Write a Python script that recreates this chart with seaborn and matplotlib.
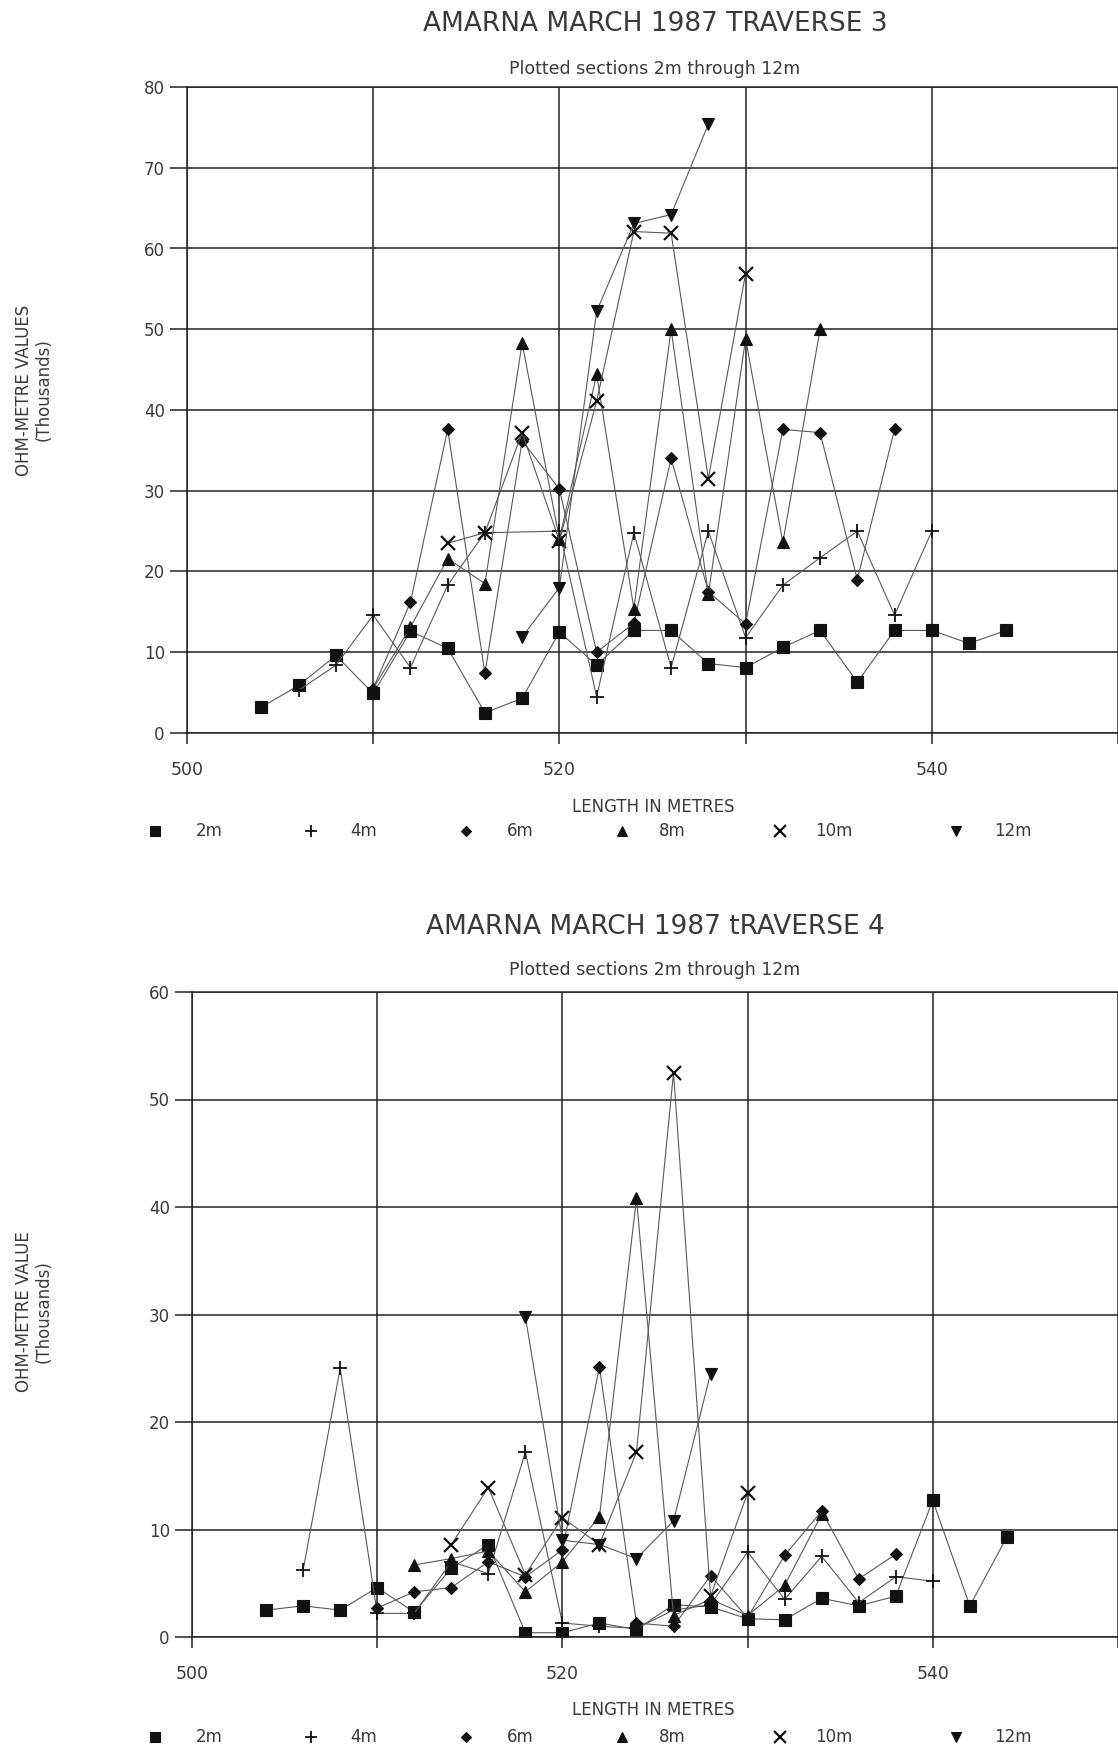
import matplotlib
matplotlib.use("Agg")
import matplotlib.pyplot as plt
from matplotlib.lines import Line2D
import pandas as pd
import seaborn as sns

# ---------------------------------------------------------------
# Traverse 3 – resistivity (thousands of ohm-metres) by position
# ---------------------------------------------------------------
t3_x_2m = [504, 506, 508, 510, 512, 514, 516, 518, 520, 522, 524,
           526, 528, 530, 532, 534, 536, 538, 540, 542, 544]
t3_y_2m = [3.2, 5.9, 9.6, 4.9, 12.6, 10.5, 2.5, 4.3, 12.5, 8.4, 12.7,
           12.7, 8.6, 8.1, 10.6, 12.7, 6.3, 12.7, 12.7, 11.1, 12.7]

t3_x_4m = [506, 508, 510, 512, 514, 516, 520, 522, 524, 526, 528,
           530, 532, 534, 536, 538, 540]
t3_y_4m = [5.3, 8.4, 14.6, 8.1, 18.3, 24.8, 25.0, 4.5, 24.8, 8.1, 25.0,
           11.8, 18.3, 21.7, 25.0, 14.6, 25.0]

t3_x_6m = [510, 512, 514, 516, 518, 520, 522, 524, 526, 528, 530,
           532, 534, 536, 538]
t3_y_6m = [5.5, 16.2, 37.6, 7.4, 36.2, 30.2, 10.0, 13.6, 34.0, 17.5, 13.5,
           37.6, 37.2, 19.0, 37.6]

t3_x_8m = [510, 512, 514, 516, 518, 520, 522, 524, 526, 528, 530, 532, 534]
t3_y_8m = [5.5, 13.1, 21.6, 18.5, 48.3, 24.0, 44.4, 15.4, 50.0, 17.2, 48.8,
           23.6, 50.0]

t3_x_10m = [514, 516, 518, 520, 522, 524, 526, 528, 530]
t3_y_10m = [23.5, 24.8, 37.2, 23.8, 41.1, 62.1, 61.9, 31.5, 56.9]

t3_x_12m = [518, 520, 522, 524, 526, 528]
t3_y_12m = [11.9, 18.0, 52.2, 63.1, 64.2, 75.4]

# ---------------------------------------------------------------
# Traverse 4
# ---------------------------------------------------------------
t4_x_2m = [504, 506, 508, 510, 512, 514, 516, 518, 520, 522, 524,
           526, 528, 530, 532, 534, 536, 538, 540, 542, 544]
t4_y_2m = [2.5, 2.9, 2.5, 4.6, 2.3, 6.4, 8.6, 0.4, 0.4, 1.3, 0.7,
           3.0, 2.8, 1.7, 1.6, 3.6, 2.9, 3.8, 12.7, 2.9, 9.3]

t4_x_4m = [506, 508, 510, 512, 514, 516, 518, 520, 522, 524, 526, 528,
           530, 532, 534, 536, 538, 540]
t4_y_4m = [6.2, 25.0, 2.2, 2.2, 7.0, 5.9, 17.2, 1.3, 1.0, 0.8, 2.5, 3.0,
           7.9, 3.5, 7.5, 3.2, 5.6, 5.2]

t4_x_6m = [510, 512, 514, 516, 518, 520, 522, 524, 526, 528, 530,
           532, 534, 536, 538]
t4_y_6m = [2.7, 4.2, 4.6, 7.0, 5.6, 8.1, 25.1, 1.3, 1.0, 5.7, 1.8,
           7.6, 11.7, 5.4, 7.7]

t4_x_8m = [512, 514, 516, 518, 520, 522, 524, 526, 528, 530, 532, 534]
t4_y_8m = [6.7, 7.3, 8.0, 4.2, 7.0, 11.2, 40.8, 2.0, 3.5, 2.0, 4.8, 11.4]

t4_x_10m = [514, 516, 518, 520, 522, 524, 526, 528, 530]
t4_y_10m = [8.6, 13.9, 5.8, 11.1, 8.6, 17.2, 52.5, 3.8, 13.4]

t4_x_12m = [518, 520, 522, 524, 526, 528]
t4_y_12m = [29.8, 9.0, 8.6, 7.3, 10.8, 24.5]

sections = ["2m", "4m", "6m", "8m", "10m", "12m"]
x_ticks = [500, 510, 520, 530, 540, 550]
x_tick_labels = ["500", "", "520", "", "540", ""]

# marker style per section: (marker, size, edge width)
STYLE = {
    "2m": ("s", 8.5, 0.8),
    "4m": ("+", 10.5, 1.3),
    "6m": ("D", 6.5, 0.8),
    "8m": ("^", 8.5, 0.8),
    "10m": ("x", 9.5, 1.6),
    "12m": ("v", 8.5, 0.8),
}

INK = "#111111"
LINE = "#5a5a5a"
GRID = "#222222"
TEXT = "#3a3a3a"


def long_frame(xs_list, ys_list):
    rows = []
    for sec, xs, ys in zip(sections, xs_list, ys_list):
        for x, y in zip(xs, ys):
            rows.append({"section": sec, "length": x, "value": y})
    return pd.DataFrame(rows)


df3 = long_frame([t3_x_2m, t3_x_4m, t3_x_6m, t3_x_8m, t3_x_10m, t3_x_12m],
                 [t3_y_2m, t3_y_4m, t3_y_6m, t3_y_8m, t3_y_10m, t3_y_12m])
df4 = long_frame([t4_x_2m, t4_x_4m, t4_x_6m, t4_x_8m, t4_x_10m, t4_x_12m],
                 [t4_y_2m, t4_y_4m, t4_y_6m, t4_y_8m, t4_y_10m, t4_y_12m])

sns.set_theme(style="white")
plt.rcParams["font.family"] = ["DejaVu Sans"]

W, H = 1118, 1751
fig = plt.figure(figsize=(W / 100, H / 100), dpi=100)
fig.patch.set_facecolor("white")


def px_box(left, top, right, bottom):
    return [left / W, 1 - bottom / H, (right - left) / W, (bottom - top) / H]


def draw_panel(ax, df, ymax):
    for sec in sections:
        sub = df[df["section"] == sec]
        m, ms, mew = STYLE[sec]
        sns.lineplot(data=sub, x="length", y="value", ax=ax,
                     estimator=None, sort=False, color=LINE, linewidth=0.8,
                     marker=m, markersize=ms, markeredgewidth=mew,
                     markerfacecolor=INK, markeredgecolor=INK, legend=False)
    ax.set_xlim(500, 550)
    ax.set_ylim(0, ymax)
    ax.set_xticks(x_ticks)
    ax.set_xticklabels(x_tick_labels)
    ax.set_yticks(range(0, ymax + 1, 10))
    ax.grid(True, color=GRID, linewidth=1.1)
    ax.set_axisbelow(True)
    ax.tick_params(axis="x", bottom=True, direction="out", length=8,
                   width=1.1, color=GRID, pad=12, labelsize=12.5,
                   labelcolor=TEXT)
    ax.tick_params(axis="y", left=True, direction="out", length=12,
                   width=1.1, color=GRID, pad=4, labelsize=12,
                   labelcolor=TEXT)
    for side in ("left", "bottom", "top"):
        ax.spines[side].set_color(GRID)
        ax.spines[side].set_linewidth(1.1)
    ax.spines["right"].set_visible(False)
    ax.set_xlabel("")
    ax.set_ylabel("")


ax1 = fig.add_axes(px_box(187, 87, 1118, 733))
draw_panel(ax1, df3, 80)
ax2 = fig.add_axes(px_box(192, 992, 1118, 1637))
draw_panel(ax2, df4, 60)

# titles and axis captions
cx = 655 / W
fig.text(cx, 1 - 24 / H, "AMARNA MARCH 1987 TRAVERSE 3", ha="center",
         va="center", fontsize=19, color=TEXT)
fig.text(cx, 1 - 69 / H, "Plotted sections 2m through 12m", ha="center",
         va="center", fontsize=12.5, color=TEXT)
fig.text(cx, 1 - 927 / H, "AMARNA MARCH 1987 tRAVERSE 4", ha="center",
         va="center", fontsize=19, color=TEXT)
fig.text(cx, 1 - 970 / H, "Plotted sections 2m through 12m", ha="center",
         va="center", fontsize=12.5, color=TEXT)

fig.text(653 / W, 1 - 807 / H, "LENGTH IN METRES", ha="center", va="center",
         fontsize=12, color=TEXT)
fig.text(653 / W, 1 - 1710 / H, "LENGTH IN METRES", ha="center", va="center",
         fontsize=12, color=TEXT)

fig.text(34 / W, 1 - 390 / H, "OHM-METRE VALUES\n(Thousands)", rotation=90,
         ha="center", va="center", multialignment="center", fontsize=12,
         color=TEXT, linespacing=1.1)
fig.text(34 / W, 1 - 1312 / H, "OHM-METRE VALUE\n(Thousands)", rotation=90,
         ha="center", va="center", multialignment="center", fontsize=12,
         color=TEXT, linespacing=1.1)

# key rows beneath each panel
key_marker_x = [155, 311, 466, 622, 780, 956]
key_text_x = [196, 350, 507, 659, 815, 994]
overlay = fig.add_axes([0, 0, 1, 1], facecolor="none")
overlay.set_xlim(0, W)
overlay.set_ylim(H, 0)
overlay.axis("off")
for key_y in (831, 1737):
    for sec, mx, tx in zip(sections, key_marker_x, key_text_x):
        m, ms, mew = STYLE[sec]
        overlay.add_line(Line2D([mx], [key_y], marker=m, markersize=ms * 0.85,
                                markeredgewidth=mew, color=INK,
                                markerfacecolor=INK, markeredgecolor=INK,
                                linestyle="none"))
        overlay.text(tx, key_y, sec, ha="left", va="center", fontsize=12,
                     color=TEXT)

fig.savefig("out.png", dpi=100, facecolor="white")
